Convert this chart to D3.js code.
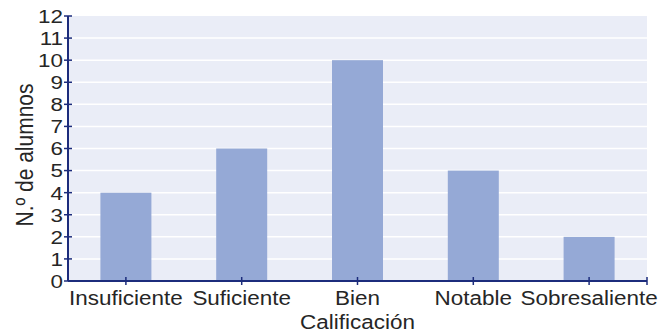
<!DOCTYPE html>
<html>
<head>
<meta charset="utf-8">
<script src="https://cdn.jsdelivr.net/npm/d3@7"></script>
<style>
  body { margin: 0; background: #fff; }
  text { font-family: "Liberation Sans", Arial, sans-serif; fill: #262626; }
</style>
</head>
<body>
<svg id="chart" width="660" height="333"></svg>
<script>
const categories = ['Insuficiente', 'Suficiente', 'Bien', 'Notable', 'Sobresaliente']
const alumnos = [4, 6, 10, 5, 2]
const yTicks = d3.range(0, 13)

const gridLeft = 68, gridRight = 647, gridTop = 16, gridBottom = 281
const axisColor = '#1c2c7c'
const barWidth = 51
// the source picture is a bit wider than tall, so text is stretched sideways
const stretch = 1.12

const svg = d3.select('#chart')

const x = d3.scaleBand().domain(categories).range([gridLeft, gridRight])
const y = d3.scaleLinear().domain([0, 12]).range([gridBottom, gridTop])
const cx = d => x(d) + x.bandwidth() / 2

// plot background
svg.append('rect')
  .attr('x', gridLeft).attr('y', gridTop)
  .attr('width', gridRight - gridLeft).attr('height', gridBottom - gridTop)
  .attr('fill', '#eaedf7')

// grid lines
svg.append('g').selectAll('line')
  .data(yTicks.filter(d => d > 0 && d < 12))
  .join('line')
  .attr('x1', gridLeft).attr('x2', gridRight)
  .attr('y1', d => y(d)).attr('y2', d => y(d))
  .attr('stroke', '#ffffff').attr('stroke-width', 1.5)

// bars
svg.append('g').selectAll('rect')
  .data(alumnos)
  .join('rect')
  .attr('x', (d, i) => cx(categories[i]) - barWidth / 2)
  .attr('width', barWidth)
  .attr('y', d => y(d))
  .attr('height', d => gridBottom - y(d))
  .attr('fill', '#95a9d6')

// y axis
let yAxis = svg.append('g')
yAxis.append('line')
  .attr('x1', gridLeft).attr('x2', gridLeft).attr('y1', gridTop).attr('y2', gridBottom)
  .attr('stroke', axisColor).attr('stroke-width', 2)
yAxis.selectAll('line.tick')
  .data(yTicks)
  .join('line')
  .attr('class', 'tick')
  .attr('x1', gridLeft - 4).attr('x2', gridLeft + 4)
  .attr('y1', d => y(d)).attr('y2', d => y(d))
  .attr('stroke', axisColor).attr('stroke-width', 1.5)
yAxis.selectAll('text')
  .data(yTicks)
  .join('text')
  .attr('transform', d => `translate(${gridLeft - 5}, ${y(d)}) scale(1.18, 1)`)
  .attr('dy', '0.36em')
  .attr('text-anchor', 'end')
  .attr('font-size', 19)
  .text(d => d)

// x axis
let xAxis = svg.append('g')
xAxis.append('line')
  .attr('x1', gridLeft).attr('x2', gridRight).attr('y1', gridBottom).attr('y2', gridBottom)
  .attr('stroke', axisColor).attr('stroke-width', 2)
xAxis.selectAll('line.tick')
  .data(categories.map(cx).concat([gridRight]))
  .join('line')
  .attr('class', 'tick')
  .attr('x1', d => d).attr('x2', d => d)
  .attr('y1', gridBottom - 4).attr('y2', gridBottom + 4)
  .attr('stroke', axisColor).attr('stroke-width', 1.5)
xAxis.selectAll('text')
  .data(categories)
  .join('text')
  .attr('transform', d => `translate(${cx(d)}, 305) scale(1.07, 1)`)
  .attr('text-anchor', 'middle')
  .attr('font-size', 21)
  .text(d => d)

// axis titles
svg.append('text')
  .attr('transform', `translate(${(gridLeft + gridRight) / 2}, 329) scale(1.07, 1)`)
  .attr('text-anchor', 'middle')
  .attr('font-size', 21)
  .text('Calificación')

svg.append('text')
  .attr('transform', `translate(33, 155) rotate(-90) scale(1, ${stretch})`)
  .attr('text-anchor', 'middle')
  .attr('font-size', 21)
  .text('N.º de alumnos')
</script>
</body>
</html>
